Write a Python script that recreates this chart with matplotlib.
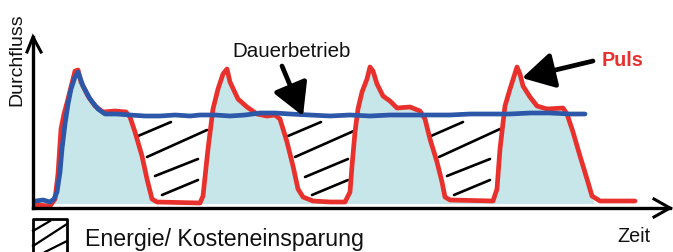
import matplotlib
matplotlib.use("Agg")
import matplotlib.pyplot as plt
import numpy as np

plt.rcParams['font.family'] = ['Liberation Sans', 'DejaVu Sans']

puls_x = [36, 50, 55, 58, 61, 64, 68, 71, 75, 78, 81, 88, 95, 103, 115, 126, 130, 135, 142, 147, 152, 157,
          200, 203, 208, 213, 218, 223, 227, 230, 238, 247, 257, 267, 275, 280, 287, 293, 298, 303, 313,
          330, 345, 350, 352, 355, 358, 362, 367, 370, 373, 377, 383, 390, 397, 410, 420, 425, 430, 437,
          442, 445, 450, 493, 497, 500, 505, 510, 517, 520, 523, 530, 537, 547, 563, 567, 573, 580, 587,
          592, 600, 617, 635]
puls_y = [206, 207, 200, 175, 130, 115, 100, 88, 72, 71, 83, 97, 107, 113, 112, 113, 118, 133, 157, 180, 200, 203,
          204, 197, 150, 110, 90, 75, 70, 83, 100, 108, 115, 117, 116, 120, 143, 167, 190, 198, 202,
          203, 203, 193, 167, 133, 110, 93, 80, 68, 72, 85, 97, 102, 109, 108, 112, 120, 140, 163,
          183, 198, 201, 202, 190, 150, 107, 90, 68, 75, 87, 98, 107, 110, 109, 115, 133, 157, 180,
          197, 202, 202, 202]

dauer_x = [36, 43, 50, 54, 57, 60, 62, 65, 68, 71, 75, 78, 83, 90, 98, 105, 117, 130, 145, 160, 175, 190,
           200, 215, 230, 245, 260, 275, 290, 310, 330, 350, 370, 390, 410, 430, 450, 470, 490, 510, 530,
           550, 570, 585]
dauer_y = [202, 201, 203, 200, 193, 173, 150, 125, 105, 90, 78, 73, 87, 100, 110, 115, 115, 116, 117, 117, 116, 117,
           116, 116, 117, 116, 114, 114, 115, 116, 117, 116, 117, 116, 116, 116, 116, 115, 115, 115, 114,
           114, 115, 115]

fill_end = 595
fill_base = 205

# savings hatch strokes (start / end points)
hatch_x0 = [138, 147, 155, 162, 288, 295, 305, 312, 431, 439, 447, 454]
hatch_y0 = [137, 158, 177, 196, 137, 158, 178, 196, 137, 158, 177, 196]
hatch_x1 = [171, 207, 198, 198, 321, 356, 348, 348, 463, 500, 490, 490]
hatch_y1 = [123, 131, 160, 181, 123, 131, 160, 181, 123, 130, 160, 181]

legend_hx0 = [33, 33, 45]
legend_hy0 = [232, 247, 253]
legend_hx1 = [50, 67, 67]
legend_hy1 = [222, 225, 242]

RED = '#e8312d'
BLUE = '#2d57a8'
FILL = '#c6e6e9'

fig = plt.figure(figsize=(6.73, 2.53), dpi=100)
ax = fig.add_axes([0, 0, 1, 1])
ax.set_xlim(0, 673)
ax.set_ylim(253, 0)
ax.axis('off')

px = np.array(puls_x, float)
py = np.array(puls_y, float)
m = px <= fill_end
fx = np.concatenate([[33], px[m], [fill_end]])
fy = np.concatenate([[fill_base], py[m], [fill_base]])
ax.fill_between(fx, fy, fill_base, where=fy <= fill_base, color=FILL, lw=0, zorder=1)

for a, b, c, d in zip(hatch_x0, hatch_y0, hatch_x1, hatch_y1):
    ax.plot([a, c], [b, d], color='black', lw=1.9, solid_capstyle='round', zorder=2)

ax.plot(puls_x, puls_y, color=RED, lw=3.4, solid_joinstyle='round', solid_capstyle='round', zorder=3)
ax.plot(dauer_x, dauer_y, color=BLUE, lw=3.4, solid_joinstyle='round', solid_capstyle='round', zorder=4)

# axes with open arrowheads
ax.plot([33, 33], [209, 38], color='black', lw=2.4, zorder=5)
ax.plot([33, 670], [209, 209], color='black', lw=2.4, zorder=5)
ax.plot([27, 33, 41], [53, 38, 53], color='black', lw=2.2, zorder=5, solid_joinstyle='miter')
ax.plot([654, 670, 654], [200, 209, 218], color='black', lw=2.2, zorder=5, solid_joinstyle='miter')

# legend box
ax.plot([33, 33, 67, 67], [253, 220, 220, 253], color='black', lw=2.0, zorder=5, clip_on=False)
for a, b, c, d in zip(legend_hx0, legend_hy0, legend_hx1, legend_hy1):
    ax.plot([a, c], [b, d], color='black', lw=1.6, zorder=5)

# texts
ax.text(17, 60, 'Durchfluss', rotation=90, ha='center', va='center', fontsize=14, color='#111111')
ax.text(292, 57, 'Dauerbetrieb', ha='center', va='baseline', fontsize=14.8, color='#111111')
ax.text(602, 66, 'Puls', ha='left', va='baseline', fontsize=14.2, color=RED, fontweight='bold')
ax.text(85, 246, 'Energie/ Kosteneinsparung', ha='left', va='baseline', fontsize=16.7, color='#111111')
ax.text(617, 242, 'Zeit', ha='left', va='baseline', fontsize=14.2, color='#111111')

arrow_style = '-|>,head_length=0.75,head_width=0.42'
ax.annotate('', xy=(303, 117), xytext=(282, 67),
            arrowprops=dict(arrowstyle=arrow_style, color='black', lw=3.4, mutation_scale=26,
                            shrinkA=0, shrinkB=0), zorder=6)
ax.annotate('', xy=(522, 79), xytext=(593, 62),
            arrowprops=dict(arrowstyle=arrow_style, color='black', lw=3.4, mutation_scale=26,
                            shrinkA=0, shrinkB=0), zorder=6)

fig.savefig('out.png', dpi=100)
